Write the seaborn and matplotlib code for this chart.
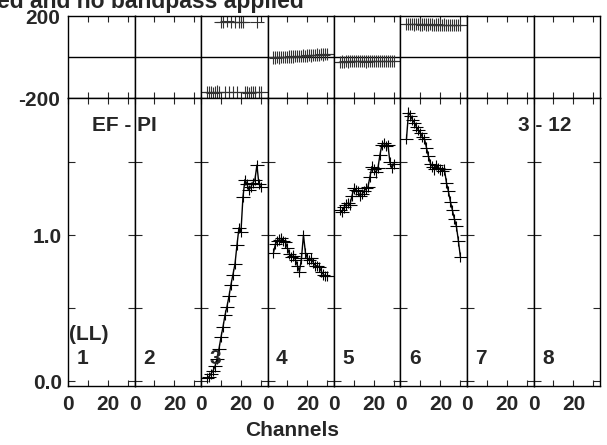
import matplotlib
matplotlib.use("Agg")
import matplotlib.pyplot as plt
import seaborn as sns

W, H = 607, 445

# channels with data (IFs 3-6 only)
chan = list(range(3, 31))

amp_if3 = [0.02, 0.03, 0.05, 0.07, 0.10, 0.15, 0.22, 0.30, 0.37, 0.45, 0.51, 0.58, 0.66, 0.73,
           0.80, 0.93, 1.05, 1.02, 1.26, 1.38, 1.35, 1.31, 1.33, 1.36, 1.38, 1.48, 1.35, 1.33]
amp_if4 = [0.88, 0.94, 0.96, 0.97, 0.98, 0.96, 0.95, 0.91, 0.87, 0.85, 0.86, 0.83, 0.79, 0.75,
           0.84, 1.00, 0.88, 0.84, 0.83, 0.84, 0.81, 0.79, 0.79, 0.78, 0.75, 0.73, 0.72, 0.72]
amp_if5 = [1.17, 1.16, 1.19, 1.21, 1.22, 1.21, 1.27, 1.32, 1.31, 1.30, 1.27, 1.28, 1.30, 1.32,
           1.33, 1.40, 1.47, 1.45, 1.43, 1.46, 1.55, 1.62, 1.63, 1.61, 1.62, 1.50, 1.46, 1.49]
amp_if6 = [1.66, 1.84, 1.82, 1.79, 1.77, 1.74, 1.72, 1.70, 1.67, 1.66, 1.60, 1.54, 1.49, 1.47,
           1.45, 1.48, 1.46, 1.45, 1.44, 1.45, 1.36, 1.30, 1.23, 1.17, 1.11, 1.06, 0.96, 0.85]

phs_if3 = [-171, -173, -170, -174, -172, -169, -173, 173, 171, -170, 174, -172, 172, -171,
           170, -173, 173, 171, 172, -172, -170, -174, -171, -173, -170, 172, -172, -171]
phs_if4 = [-2, -3, -1, -2, 0, -1, 1, 0, 2, 3, 2, 4, 5, 4,
           6, 7, 6, 8, 9, 8, 10, 11, 12, 11, 13, 12, 14, 13]
phs_if5 = [-23, -22, -24, -21, -22, -20, -21, -19, -20, -21, -18, -19, -20, -22,
           -20, -19, -21, -20, -19, -18, -20, -19, -21, -20, -19, -20, -18, -19]
phs_if6 = [162, 161, 160, 162, 159, 160, 161, 159, 158, 160, 159, 158, 160, 158,
           157, 159, 158, 157, 156, 158, 157, 156, 157, 155, 156, 157, 155, 156]

if_numbers = [1, 2, 3, 4, 5, 6, 7, 8]
amp_data = {3: amp_if3, 4: amp_if4, 5: amp_if5, 6: amp_if6}
phs_data = {3: phs_if3, 4: phs_if4, 5: phs_if5, 6: phs_if6}

amp_err = 0.035
phs_err = 30
chan_halfwidth = 3.3

sns.set_style("ticks")
plt.rcParams['font.family'] = ['Liberation Sans', 'DejaVu Sans']
plt.rcParams['font.weight'] = 'bold'
plt.rcParams['axes.linewidth'] = 1.0
FS = 15

fig = plt.figure(figsize=(W / 100, H / 100), dpi=100)
gs = fig.add_gridspec(2, 8, height_ratios=[82, 288],
                      left=68 / W, right=600 / W, top=1 - 16 / H, bottom=1 - 386 / H,
                      wspace=0, hspace=0)

for i, n in enumerate(if_numbers):
    axp = fig.add_subplot(gs[0, i])
    axa = fig.add_subplot(gs[1, i])

    for ax in (axp, axa):
        ax.set_xlim(0, 33.3)
        for s in ax.spines.values():
            s.set_color('k')
            s.set_visible(True)
        ax.set_xlabel('')
        ax.set_ylabel('')

    # phase panel
    axp.set_ylim(-200, 200)
    axp.axhline(0, color='k', lw=1)
    axp.set_xticks([10, 20, 30])
    axp.tick_params(axis='x', direction='in', top=True, bottom=True, length=4,
                    labelbottom=False, width=0.8)
    if i == 0:
        axp.set_yticks([-200, 200])
        axp.set_yticklabels(['-200', '200'], fontsize=FS, fontweight='bold')
        axp.tick_params(axis='y', length=0, pad=5.5)
    else:
        axp.set_yticks([])

    # amplitude panel
    axa.set_ylim(-0.034, 1.94)
    axa.set_xticks([0, 10, 20, 30])
    axa.set_xticklabels(['0', '', '20', ''], fontsize=FS, fontweight='bold')
    axa.tick_params(axis='x', direction='in', top=True, bottom=True, length=4,
                    pad=6.5, width=0.8)
    axa.set_yticks([0, 0.5, 1.0, 1.5])
    axa.tick_params(axis='y', direction='in', left=True, right=True, length=5,
                    width=0.8, pad=4.5)
    if i == 0:
        axa.set_yticklabels(['0.0', '', '1.0', ''], fontsize=FS, fontweight='bold')
    else:
        axa.set_yticklabels([])

    if n in amp_data:
        axp.errorbar(chan, phs_data[n], xerr=chan_halfwidth, yerr=phs_err, fmt='none',
                     ecolor='0.2', elinewidth=0.8)
        axa.errorbar(chan, amp_data[n], xerr=chan_halfwidth, yerr=amp_err, fmt='none',
                     ecolor='k', elinewidth=0.8)
        sns.lineplot(x=chan, y=amp_data[n], ax=axa, color='k', linewidth=1.0,
                     legend=False)
        axa.set_xlabel('')
        axa.set_ylabel('')

    axa.text(8.5 / 2, (381 - 364) / 146, str(n), fontsize=FS, fontweight='bold',
             va='baseline', ha='left')

fig.text(69 / W, 1 - 340 / H, '(LL)', fontsize=FS, fontweight='bold', va='baseline')
fig.text(91.5 / W, 1 - 131 / H, 'EF - PI', fontsize=FS, fontweight='bold', va='baseline')
fig.text(518.5 / W, 1 - 131 / H, '3 - 12', fontsize=FS, fontweight='bold', va='baseline')
fig.text(292 / W, 1 - 436 / H, 'Channels', fontsize=FS, fontweight='bold',
         va='baseline', ha='center')
fig.text(-3 / W, 1 - 8 / H, 'ed and no bandpass applied', fontsize=16.5,
         fontweight='bold', va='baseline', ha='left')

fig.savefig('out.png', dpi=100)
